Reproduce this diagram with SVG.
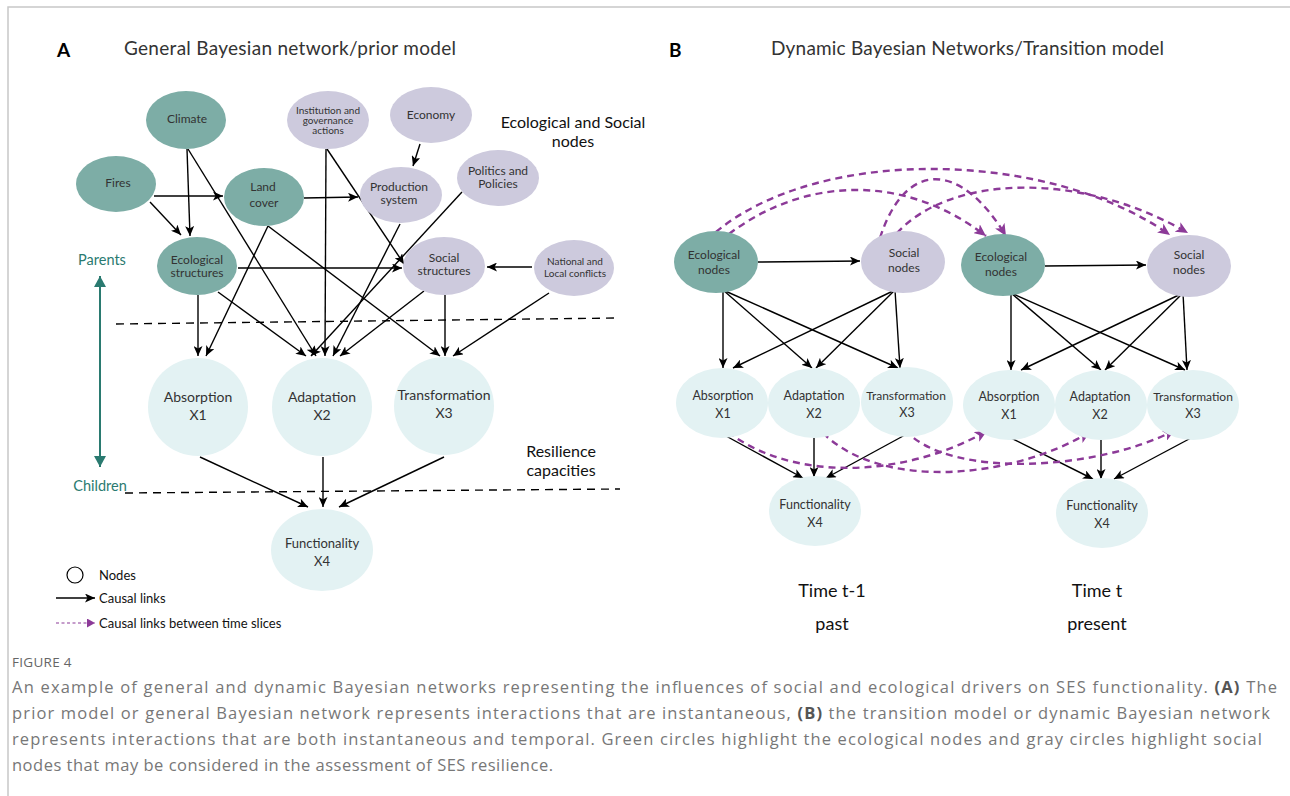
<svg xmlns="http://www.w3.org/2000/svg" width="1290" height="796" viewBox="0 0 1290 796">
<style>
text{font-family:Lato,"Noto Sans","Liberation Sans",sans-serif;fill:#333}
.eco{fill:#7dada6}
.soc{fill:#cdcadd}
.cap{fill:#e3f2f3}
.n{font-size:12px;text-anchor:middle}
.ns{font-size:10px;text-anchor:middle}
.nb{font-size:14px;text-anchor:middle}
.nm{font-size:12.5px;text-anchor:middle}
.e{stroke:#000;stroke-width:1.4;fill:none;marker-end:url(#ah)}
.p{stroke:#8c3a98;stroke-width:2.4;fill:none;stroke-dasharray:7,5;marker-end:url(#ph)}
.dash{stroke:#000;stroke-width:1.4;stroke-dasharray:8,6;fill:none}
.title{font-size:19px}
.lab{font-size:16px;text-anchor:middle;fill:#111}
.teal{font-size:14.5px;fill:#2a7a70}
.leg{font-size:13px;fill:#111}
.time{font-size:18px;text-anchor:middle;fill:#111}
.capt{font-family:"Open Sans","Liberation Sans",sans-serif;font-size:16.5px;fill:#777}
</style>
<defs>
<marker id="ah" markerUnits="userSpaceOnUse" markerWidth="11" markerHeight="9" refX="10" refY="4.5" orient="auto"><path d="M0,0 L10,4.5 L0,9 L2.5,4.5 z" fill="#000"/></marker>
<marker id="ph" markerUnits="userSpaceOnUse" markerWidth="13" markerHeight="11" refX="12" refY="5.5" orient="auto"><path d="M0,0 L12,5.5 L0,11 L3,5.5 z" fill="#8c3a98"/></marker>
<marker id="th" markerUnits="userSpaceOnUse" markerWidth="12" markerHeight="12" refX="11" refY="6" orient="auto"><path d="M0,0 L11,6 L0,12 z" fill="#2a7a70"/></marker>
<marker id="phs" markerUnits="userSpaceOnUse" markerWidth="9" markerHeight="9" refX="8" refY="4.5" orient="auto"><path d="M0,0 L8,4.5 L0,9 z" fill="#8c3a98"/></marker>
</defs>

<!-- frame -->
<path d="M8,796 L8,7 L1290,7" stroke="#c8c8c8" stroke-width="1.5" fill="none"/>

<!-- titles -->
<text x="57" y="57" style="font-size:19px;font-weight:bold;fill:#000">A</text>
<text x="124" y="55" class="title" textLength="332">General Bayesian network/prior model</text>
<text x="669" y="57" style="font-size:19px;font-weight:bold;fill:#000">B</text>
<text x="771" y="55" class="title" textLength="393">Dynamic Bayesian Networks/Transition model</text>

<text x="573" y="128" class="lab">Ecological and Social</text>
<text x="573" y="147" class="lab">nodes</text>
<text x="561" y="457" class="lab">Resilience</text>
<text x="561" y="476" class="lab">capacities</text>
<text x="102" y="265" class="teal" text-anchor="middle">Parents</text>
<text x="100" y="491" class="teal" text-anchor="middle">Children</text>

<!-- connectors -->
<g id="connectors">
<path class="dash" d="M116,324 L620,318"/>
<path class="dash" d="M125,493 L620,489"/>
<path d="M100,287 L100,276" stroke="#2a7a70" stroke-width="2" marker-end="url(#th)"/>
<path d="M100,287 L100,455 M100,455 L100,467" stroke="#2a7a70" stroke-width="2" fill="none" marker-end="url(#th)"/>

<path class="e" d="M187,149 L190,236"/>
<path class="e" d="M188,149 L316,356"/>
<path class="e" d="M154,196 L223,196"/>
<path class="e" d="M150,202 L181,235"/>
<path class="e" d="M304,198 L358,197"/>
<path class="e" d="M268,226 L206,356"/>
<path class="e" d="M268,226 L440,356"/>
<path class="e" d="M326,149 L325,356"/>
<path class="e" d="M327,149 L404,264"/>
<path class="e" d="M420,144 L413,166"/>
<path class="e" d="M400,224 L333,356"/>
<path class="e" d="M462,192 L311,356"/>
<path class="e" d="M238,268 L402,268"/>
<path class="e" d="M532,267 L487,267"/>
<path class="e" d="M198,295 L198,356"/>
<path class="e" d="M218,292 L306,356"/>
<path class="e" d="M424,291 L340,356"/>
<path class="e" d="M445,295 L445,356"/>
<path class="e" d="M549,293 L453,356"/>
<path class="e" d="M200,457 L308,507"/>
<path class="e" d="M323,457 L323,507"/>
<path class="e" d="M444,457 L339,507"/>

<!-- panel B -->
<path class="e" d="M758,262 L860,261"/>
<path class="e" d="M1045,266 L1146,265"/>
<path class="e" d="M723,290 L723,368"/>
<path class="e" d="M723,290 L812,368"/>
<path class="e" d="M723,290 L898,368"/>
<path class="e" d="M895,290 L733,368"/>
<path class="e" d="M895,290 L816,368"/>
<path class="e" d="M895,290 L900,368"/>
<path class="e" d="M1011,293 L1011,370"/>
<path class="e" d="M1011,293 L1101,370"/>
<path class="e" d="M1011,293 L1185,370"/>
<path class="e" d="M1183,293 L1021,370"/>
<path class="e" d="M1183,293 L1105,370"/>
<path class="e" d="M1183,293 L1187,370"/>
<path class="e" d="M726,436 L803,478"/>
<path class="e" d="M814,438 L814,477"/>
<path class="e" d="M905,435 L826,478"/>
<path class="e" d="M1011,438 L1093,479"/>
<path class="e" d="M1101,440 L1101,479"/>
<path class="e" d="M1191,438 L1114,479"/>

<path class="p" d="M716,232 C820,145 1050,150 1170,235"/>
<path class="p" d="M729,234 C800,180 900,170 986,236"/>
<path class="p" d="M880,238 C905,160 960,160 1006,236"/>
<path class="p" d="M897,233 C950,175 1080,170 1188,233"/>
<path class="p" d="M728,432 C790,480 900,480 987,431"/>
<path class="p" d="M823,433 C880,490 1010,480 1090,432"/>
<path class="p" d="M905,430 C950,480 1100,470 1175,430"/>
</g>

<!-- panel A nodes -->
<g id="climate"><ellipse class="eco" cx="186" cy="120" rx="40" ry="29"/><text class="n" x="187" y="123">Climate</text></g>
<g id="institution"><ellipse class="soc" cx="328" cy="120" rx="41" ry="29"/><text class="ns" x="328" y="114">Institution and</text><text class="ns" x="328" y="124">governance</text><text class="ns" x="328" y="134">actions</text></g>
<g id="economy"><ellipse class="soc" cx="431" cy="115" rx="41" ry="28"/><text class="n" x="431" y="119">Economy</text></g>
<g id="fires"><ellipse class="eco" cx="116" cy="184" rx="40" ry="28"/><text class="n" x="118" y="187">Fires</text></g>
<g id="landcover"><ellipse class="eco" cx="264" cy="197" rx="40" ry="29"/><text class="n" x="263" y="191">Land</text><text class="n" x="264" y="207">cover</text></g>
<g id="production"><ellipse class="soc" cx="401" cy="195" rx="41" ry="28"/><text class="n" x="399" y="191">Production</text><text class="n" x="399" y="204">system</text></g>
<g id="politics"><ellipse class="soc" cx="498" cy="178" rx="41" ry="28"/><text class="n" x="498" y="175">Politics and</text><text class="n" x="498" y="188">Policies</text></g>
<g id="ecostructures"><ellipse class="eco" cx="197" cy="266" rx="40" ry="29"/><text class="n" x="197" y="264">Ecological</text><text class="n" x="197" y="277">structures</text></g>
<g id="socstructures"><ellipse class="soc" cx="444" cy="266" rx="41" ry="29"/><text class="n" x="444" y="262">Social</text><text class="n" x="444" y="275">structures</text></g>
<g id="conflicts"><ellipse class="soc" cx="574" cy="268" rx="40" ry="28"/><text class="ns" x="575" y="265">National and</text><text class="ns" x="575" y="277">Local conflicts</text></g>
<g id="absorptionA"><ellipse class="cap" cx="198" cy="407" rx="50" ry="49"/><text class="nb" x="198" y="402">Absorption</text><text class="nb" x="198" y="420">X1</text></g>
<g id="adaptationA"><ellipse class="cap" cx="322" cy="407" rx="50" ry="49"/><text class="nb" x="322" y="402">Adaptation</text><text class="nb" x="322" y="420">X2</text></g>
<g id="transformationA"><ellipse class="cap" cx="444" cy="406" rx="50" ry="49"/><text class="nb" x="444" y="400">Transformation</text><text class="nb" x="444" y="418">X3</text></g>
<g id="functionalityA"><ellipse class="cap" cx="322" cy="550" rx="51" ry="41"/><text class="n" x="322" y="548" style="font-size:13px">Functionality</text><text class="n" x="322" y="566" style="font-size:13px">X4</text></g>

<!-- panel B nodes -->
<g id="eco1"><ellipse class="eco" cx="716" cy="262" rx="42" ry="31"/><text class="n" x="714" y="259">Ecological</text><text class="n" x="714" y="274">nodes</text></g>
<g id="soc1"><ellipse class="soc" cx="903" cy="262" rx="42" ry="31"/><text class="n" x="904" y="257">Social</text><text class="n" x="904" y="272">nodes</text></g>
<g id="eco2"><ellipse class="eco" cx="1003" cy="265" rx="42" ry="31"/><text class="n" x="1001" y="261">Ecological</text><text class="n" x="1001" y="276">nodes</text></g>
<g id="soc2"><ellipse class="soc" cx="1189" cy="266" rx="42" ry="31"/><text class="n" x="1189" y="259">Social</text><text class="n" x="1189" y="274">nodes</text></g>
<g id="abs1"><ellipse class="cap" cx="722" cy="403" rx="46" ry="35"/><text class="nm" x="723" y="400">Absorption</text><text class="nm" x="723" y="418">X1</text></g>
<g id="ada1"><ellipse class="cap" cx="814" cy="403" rx="46" ry="35"/><text class="nm" x="814" y="400">Adaptation</text><text class="nm" x="814" y="418">X2</text></g>
<g id="tra1"><ellipse class="cap" cx="907" cy="402" rx="46" ry="35"/><text class="nm" x="906" y="400" style="font-size:12px">Transformation</text><text class="nm" x="907" y="417">X3</text></g>
<g id="abs2"><ellipse class="cap" cx="1009" cy="405" rx="46" ry="35"/><text class="nm" x="1009" y="401">Absorption</text><text class="nm" x="1009" y="419">X1</text></g>
<g id="ada2"><ellipse class="cap" cx="1101" cy="405" rx="46" ry="35"/><text class="nm" x="1100" y="401">Adaptation</text><text class="nm" x="1100" y="419">X2</text></g>
<g id="tra2"><ellipse class="cap" cx="1193" cy="405" rx="46" ry="35"/><text class="nm" x="1193" y="401" style="font-size:12px">Transformation</text><text class="nm" x="1193" y="418">X3</text></g>
<g id="fun1"><ellipse class="cap" cx="815" cy="511" rx="46" ry="35"/><text class="nm" x="815" y="509">Functionality</text><text class="nm" x="815" y="527">X4</text></g>
<g id="fun2"><ellipse class="cap" cx="1102" cy="513" rx="46" ry="35"/><text class="nm" x="1102" y="510">Functionality</text><text class="nm" x="1102" y="528">X4</text></g>

<text x="832" y="597" class="time">Time t-1</text>
<text x="832" y="630" class="time">past</text>
<text x="1097" y="597" class="time">Time t</text>
<text x="1097" y="630" class="time">present</text>

<!-- legend -->
<g id="legend">
<circle cx="75" cy="575" r="8" fill="none" stroke="#000" stroke-width="1.2"/>
<text x="99" y="580" class="leg">Nodes</text>
<path d="M56,598 L95,598" stroke="#000" stroke-width="1.4" marker-end="url(#ah)"/>
<text x="99" y="603" class="leg">Causal links</text>
<path d="M56,623 L95,623" stroke="#8c3a98" stroke-width="1.2" stroke-dasharray="3,2.5" marker-end="url(#phs)"/>
<text x="99" y="628" class="leg">Causal links between time slices</text>
</g>

<!-- caption -->
<text x="12" y="667" style="font-family:'Open Sans','Liberation Sans',sans-serif;font-size:13.5px;fill:#666;letter-spacing:0.3px">FIGURE 4</text>
<text x="12" y="693" class="capt" textLength="1265">An example of general and dynamic Bayesian networks representing the influences of social and ecological drivers on SES functionality. <tspan font-weight="bold" fill="#555">(A)</tspan> The</text>
<text x="12" y="719" class="capt" textLength="1258">prior model or general Bayesian network represents interactions that are instantaneous, <tspan font-weight="bold" fill="#555">(B)</tspan> the transition model or dynamic Bayesian network</text>
<text x="12" y="745" class="capt" textLength="1250">represents interactions that are both instantaneous and temporal. Green circles highlight the ecological nodes and gray circles highlight social</text>
<text x="12" y="771" class="capt" textLength="541">nodes that may be considered in the assessment of SES resilience.</text>
</svg>
